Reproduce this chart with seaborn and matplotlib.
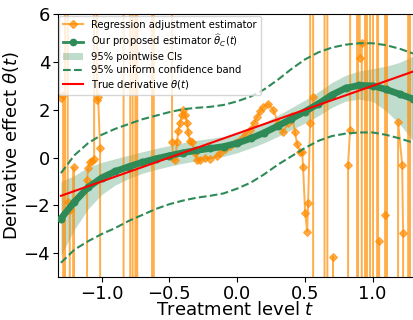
import numpy as np
import pandas as pd
import matplotlib
matplotlib.use("Agg")
import matplotlib.pyplot as plt
import seaborn as sns
from matplotlib.lines import Line2D

# grid for the proposed estimator and its bands
t_grid = [-1.3, -1.2, -1.1, -1.0, -0.9, -0.8, -0.7, -0.6, -0.5, -0.4, -0.3, -0.2, -0.1,
          0.0, 0.1, 0.2, 0.3, 0.4, 0.5, 0.6, 0.7, 0.8, 0.9, 1.0, 1.1, 1.2, 1.3]
theta_hat = [-2.55, -1.85, -1.25, -0.85, -0.58, -0.38, -0.20, -0.05, 0.08, 0.20, 0.30, 0.38, 0.46,
             0.60, 0.80, 1.04, 1.32, 1.62, 1.92, 2.25, 2.62, 2.90, 3.02, 3.00, 2.85, 2.65, 2.45]
ci_low = [-4.10, -3.00, -2.15, -1.55, -1.15, -0.88, -0.66, -0.50, -0.36, -0.24, -0.14, -0.05, 0.05,
          0.20, 0.40, 0.62, 0.88, 1.16, 1.44, 1.75, 2.10, 2.36, 2.44, 2.35, 1.95, 1.40, 0.70]
ci_high = [-1.00, -0.75, -0.40, -0.20, -0.05, 0.10, 0.24, 0.38, 0.50, 0.62, 0.72, 0.80, 0.88,
           1.02, 1.22, 1.46, 1.76, 2.08, 2.40, 2.75, 3.14, 3.44, 3.62, 3.72, 3.82, 3.98, 4.25]
unif_high = [-0.65, 0.10, 0.60, 0.95, 1.20, 1.40, 1.60, 1.75, 1.90, 2.02, 2.08, 2.12, 2.20,
             2.35, 2.55, 2.85, 3.25, 3.70, 4.10, 4.40, 4.60, 4.72, 4.78, 4.78, 4.70, 4.55, 4.35]
unif_low = [-4.40, -3.85, -3.50, -3.20, -2.95, -2.65, -2.40, -2.15, -1.95, -1.80, -1.68, -1.60, -1.50,
            -1.30, -1.05, -0.70, -0.30, 0.05, 0.40, 0.70, 0.90, 1.00, 1.05, 1.05, 0.95, 0.80, 0.62]
true_theta = [-1.6, -1.4, -1.2, -1.0, -0.8, -0.6, -0.4, -0.2, 0.0, 0.2, 0.4, 0.6, 0.8,
              1.0, 1.2, 1.4, 1.6, 1.8, 2.0, 2.2, 2.4, 2.6, 2.8, 3.0, 3.2, 3.4, 3.6]

# regression adjustment estimator (very unstable; +-300 means far off the axes)
ra_t = [-1.299, -1.284, -1.270, -1.2695, -1.2505, -1.250, -1.235, -1.222, -1.208, -1.207,
        -1.195, -1.108, -1.107, -1.100, -1.085, -1.070, -1.055, -1.045, -1.034, -1.033,
        -1.026, -1.011, -1.000, -0.838, -0.8375, -0.789, -0.7885, -0.771, -0.7705, -0.751,
        -0.7505, -0.737, -0.7365, -0.628, -0.6275, -0.615, -0.6145, -0.481,
        -0.480, -0.472, -0.458, -0.443, -0.435, -0.421, -0.406, -0.399, -0.384, -0.369,
        -0.362, -0.347, -0.332, -0.310, -0.295, -0.273, -0.236, -0.199, -0.148, -0.125,
        -0.089, -0.052, -0.015, 0.022, 0.059, 0.096, 0.125, 0.148, 0.170, 0.192,
        0.229, 0.266, 0.303, 0.339, 0.376, 0.406, 0.428, 0.443, 0.465, 0.480,
        0.487, 0.502, 0.517, 0.524, 0.539, 0.553, 0.560, 0.561, 0.562, 0.645,
        0.6455, 0.666, 0.6665, 0.707, 0.708, 0.709, 0.818, 0.819, 0.834, 0.849,
        0.885, 0.8855, 0.892, 0.8925, 0.904, 0.905, 0.920, 0.921, 0.944, 0.9445,
        0.958, 0.9585, 0.981, 0.9815, 1.003, 1.0035, 1.033, 1.0335, 1.040, 1.0405,
        1.047, 1.048, 1.049, 1.091, 1.092, 1.093, 1.106, 1.1065, 1.187, 1.188,
        1.218, 1.225, 1.226, 1.262, 1.2625, 1.276, 1.2765, 1.300]
ra_val = [2.5, 2.6, -300, 300, 300, -1.85, -2.2, -300, -300, -0.4,
          -300, -300, -0.92, -0.42, -0.2, -0.15, -0.05, 300, 300, 2.4,
          2.55, 0.4, -300, -300, 300, 300, -300, -300, 300, 300,
          -300, -300, 300, 300, -300, -300, 300, 300,
          0.63, 0.0, -0.1, 0.63, 1.1, 1.45, 1.8, 2.0, 1.8, 1.45,
          1.05, 0.7, 0.63, 0.2, -0.1, -0.1, 0.0, -0.05, 0.05, 0.2,
          0.35, 0.5, 0.6, 0.75, 0.95, 1.17, 1.45, 1.7, 1.95, 2.1,
          2.25, 2.0, 1.45, 1.05, 1.45, 1.75, 1.05, 0.55, 0.25, 0.22,
          -0.4, -2.3, -3.1, -1.9, 1.46, 300, 300, 2.55, -300, -300,
          300, 300, -300, -300, -4.15, -300, -300, -0.3, 1.17, 300,
          300, -300, -300, 300, 300, 4.17, 4.8, -300, -300, 300,
          300, -300, -300, 300, 300, -300, -300, 300, 300, -300,
          -300, -3.5, -300, -300, -2.4, 300, 300, -300, -300, 1.5,
          -0.3, -3.15, -300, -300, 300, 300, -300, -300]

est = pd.DataFrame({"t": t_grid, "est": theta_hat, "truth": true_theta})
ra = pd.DataFrame({"t": ra_t, "val": ra_val})

green = "seagreen"
fig = plt.figure(figsize=(4.13, 3.2), dpi=100)
ax = fig.add_axes([0.14, 0.134, 0.859, 0.822])

band = ax.fill_between(t_grid, ci_low, ci_high, color=green, alpha=0.3, lw=0, zorder=1)
sns.lineplot(data=ra, x="t", y="val", sort=False, estimator=None, ax=ax,
             color="darkorange", alpha=0.7, lw=1.4, marker="D", markersize=4.5,
             markeredgecolor="darkorange", zorder=2)
sns.lineplot(data=est, x="t", y="est", estimator=None, ax=ax, color=green, lw=4.8,
             marker="o", markersize=5, markeredgecolor=green, zorder=3)
ax.plot(t_grid, unif_high, "--", color=green, lw=1.5, zorder=3)
ax.plot(t_grid, unif_low, "--", color=green, lw=1.5, zorder=3)
sns.lineplot(data=est, x="t", y="truth", estimator=None, ax=ax, color="red", lw=1.5, zorder=4)

handles = [
    Line2D([], [], color="darkorange", alpha=0.7, lw=1.5, marker="D", markersize=4.5),
    Line2D([], [], color=green, lw=2, marker="o", markersize=4.5),
    band,
    Line2D([], [], color=green, ls="--", lw=1.5),
    Line2D([], [], color="red", lw=1.5),
]
labels = [
    "Regression adjustment estimator",
    r"Our proposed estimator $\widehat{\theta}_C(t)$",
    "95% pointwise CIs",
    "95% uniform confidence band",
    r"True derivative $\theta(t)$",
]
ax.legend(handles, labels, loc="upper left", fontsize=7.2, handlelength=2.0,
          labelspacing=0.3, borderaxespad=0.15, framealpha=0.8)

ax.set_xlim(-1.323, 1.295)
ax.set_ylim(-5, 6)
ax.set_xticks([-1.0, -0.5, 0.0, 0.5, 1.0])
ax.set_yticks([-4, -2, 0, 2, 4, 6])
ax.tick_params(labelsize=13, pad=2)
ax.set_xlabel("Treatment level $t$", fontsize=13, labelpad=-1)
ax.set_ylabel(r"Derivative effect $\theta(t)$", fontsize=13, labelpad=2)

fig.savefig("out.png", dpi=100)
